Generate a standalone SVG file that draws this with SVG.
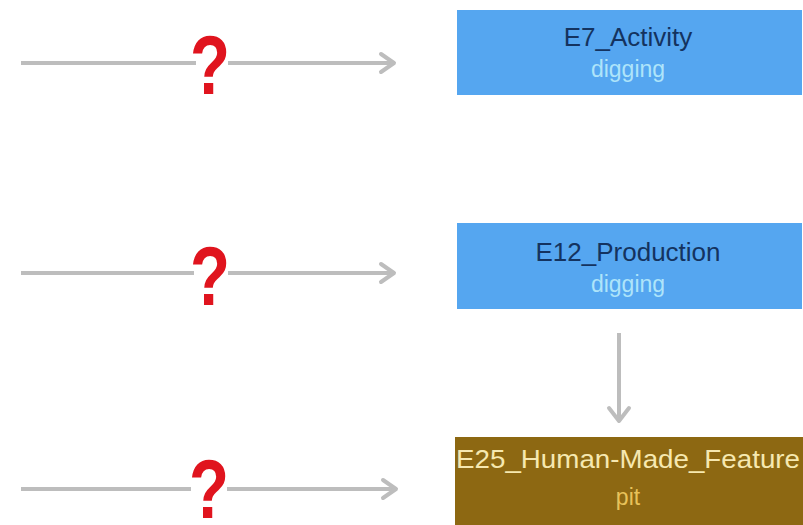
<svg xmlns="http://www.w3.org/2000/svg" width="803" height="525" viewBox="0 0 803 525">
<style>
.edge{stroke:#bdbdbd;stroke-width:4;fill:none}
.head{stroke:#bdbdbd;stroke-width:4;fill:none;stroke-linecap:round;stroke-linejoin:round}
.q{font-family:"Liberation Sans",Arial,sans-serif;font-weight:bold;font-size:84px;fill:#e0141e;text-anchor:middle}
.qbg{fill:#ffffff}
.title{font-family:"Liberation Sans",Arial,sans-serif;font-size:26px;text-anchor:middle}
.sub{font-family:"Liberation Sans",Arial,sans-serif;font-size:23px;text-anchor:middle}
.blue{fill:#55a6f0}
.brown{fill:#8d6812}
</style>
<rect width="803" height="525" fill="#ffffff"/>
<g id="connectors">
  <g id="e1">
    <line class="edge" x1="21" y1="63" x2="393" y2="63"/>
    <polyline class="head" points="381,54 394,63 381,72"/>
    <rect class="qbg" x="196" y="30" width="32" height="66"/>
    <text class="q" x="210" y="94" textLength="40" lengthAdjust="spacingAndGlyphs">?</text>
  </g>
  <g id="e2">
    <line class="edge" x1="21" y1="273" x2="393" y2="273"/>
    <polyline class="head" points="381,264 394,273 381,282"/>
    <rect class="qbg" x="194" y="241" width="34" height="66"/>
    <text class="q" x="210" y="305" textLength="40" lengthAdjust="spacingAndGlyphs">?</text>
  </g>
  <g id="e3">
    <line class="edge" x1="21" y1="489" x2="395" y2="489"/>
    <polyline class="head" points="383,480 396,489 383,498"/>
    <rect class="qbg" x="191" y="456" width="36" height="66"/>
    <text class="q" x="209" y="518" textLength="40" lengthAdjust="spacingAndGlyphs">?</text>
  </g>
  <g id="e4">
    <line class="edge" x1="619" y1="333" x2="619" y2="420"/>
    <polyline class="head" points="609,408 619,421 629,408"/>
  </g>
</g>
<g id="n1">
  <rect class="blue" x="457" y="10" width="345" height="85"/>
  <text class="title" x="628" y="46" fill="#14335f">E7_Activity</text>
  <text class="sub" x="628" y="77" fill="#aee4fa">digging</text>
</g>
<g id="n2">
  <rect class="blue" x="457" y="223" width="345" height="86"/>
  <text class="title" x="628" y="261" fill="#14335f">E12_Production</text>
  <text class="sub" x="628" y="292" fill="#aee4fa">digging</text>
</g>
<g id="n3">
  <rect class="brown" x="455" y="437" width="348" height="88"/>
  <text class="title" x="628" y="468" fill="#f6e8b0" textLength="344" lengthAdjust="spacingAndGlyphs">E25_Human-Made_Feature</text>
  <text class="sub" x="628" y="505" fill="#e8c25a">pit</text>
</g>
</svg>
